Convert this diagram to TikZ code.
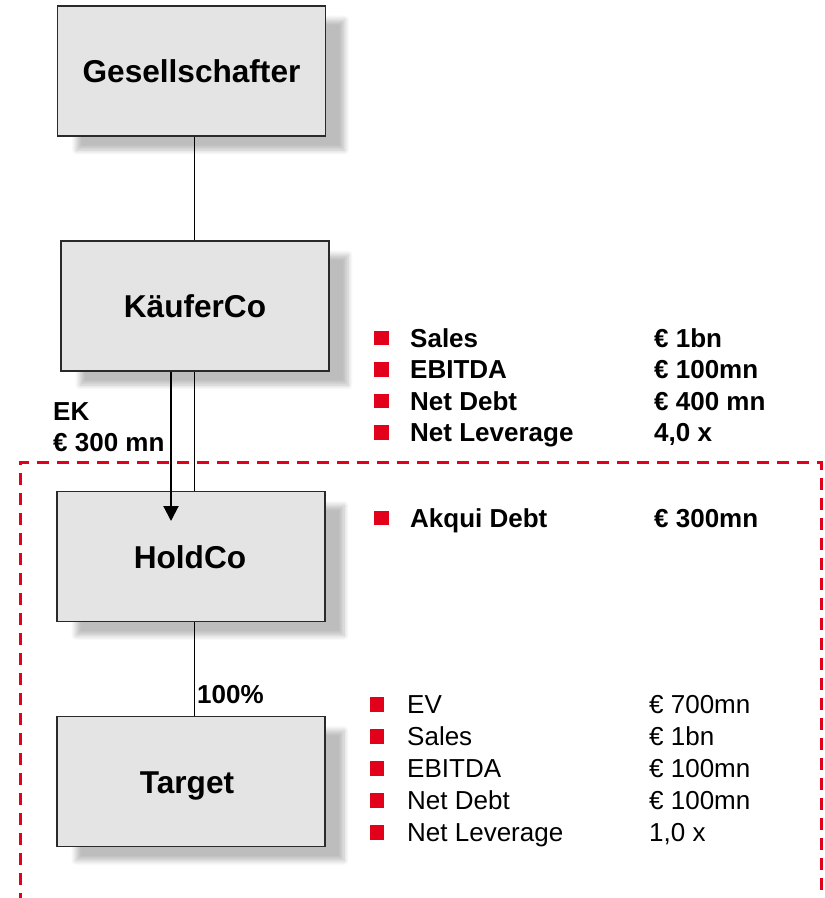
\documentclass[tikz,border=0pt]{standalone}
\usepackage{fontspec}
\setmainfont{Liberation Sans}
\usetikzlibrary{arrows.meta,shadows.blur}

\definecolor{boxfill}{HTML}{E4E4E4}
\definecolor{boxline}{HTML}{2A2A2A}
\definecolor{accent}{HTML}{E2001A}

\tikzset{
  entity/.style={draw=boxline, line width=1.4pt, fill=boxfill,
    minimum width=268pt, minimum height=130pt, inner sep=0pt,
    text height=23pt, text depth=0pt,
    font=\fontsize{31.6}{37}\selectfont\bfseries,
    blur shadow={shadow xshift=19pt, shadow yshift=-14pt,
      shadow blur radius=5pt, shadow blur steps=8, shadow opacity=26}},
  link/.style={draw=black, line width=1pt},
  flow/.style={draw=black, line width=2pt,
    -{Triangle[width=15pt,length=15pt]}},
  bul/.style={fill=accent, minimum size=14.5pt, inner sep=0pt},
  keyb/.style={anchor=base west, inner sep=0pt,
    font=\fontsize{26}{30}\selectfont\bfseries},
  keyr/.style={anchor=base west, inner sep=0pt,
    font=\fontsize{26}{30}\selectfont},
  scopeline/.style={draw=accent, line width=3pt,
    dash pattern=on 12pt off 8pt}
}

\begin{document}
\begin{tikzpicture}[x=1pt,y=-1pt]
\useasboundingbox (0,0) rectangle (825,898);

% entities
\node[entity] (gs) at (191.5,71)  {Gesellschafter};
\node[entity] (kc) at (195,306)   {KäuferCo};
\node[entity] (hc) at (191,556.5) {HoldCo\hspace*{2pt}};
\node[entity] (tg) at (191,781.5) {Target\hspace*{8pt}};

% ownership links
\coordinate (x1) at (194,0);
\draw[link] (gs.south -| x1) -- (kc.north -| x1);
\draw[link] (kc.south -| x1) -- (hc.north -| x1);
\draw[link] (hc.south -| x1) -- (tg.north -| x1);

% equity injection
\coordinate (x2) at (171,0);
\coordinate (tip) at (171,521);
\draw[flow] (kc.south -| x2) -- (tip);

\node[keyb] (ek)  at (53,420) {EK};
\node[keyb] (eka) at (53,451) {€ 300 mn};
\node[keyb] (pct) at (197,703) {100\%};

% acquisition perimeter
\draw[scopeline] (20,905) -- (20,462) -- (821,462) -- (821,905);

% KäuferCo key figures
\foreach \i/\lab/\val/\yy in {1/Sales/€ 1bn/347, 2/EBITDA/€ 100mn/378.5,
    3/Net Debt/€ 400 mn/410, 4/Net Leverage/4{,}0 x/441.5}{
  \node[bul] (kb\i) at (381.5,\yy-9) {};
  \node[keyb] (kl\i) at (410,\yy) {\lab};
  \node[keyb] (kv\i) at (654,\yy) {\val};
}

% HoldCo financing
\node[bul] (hb1) at (381.5,518) {};
\node[keyb] (hl1) at (410,527) {Akqui Debt};
\node[keyb] (hv1) at (654,527) {€ 300mn};

% Target key figures
\foreach \i/\lab/\val/\yy in {1/EV/€ 700mn/713, 2/Sales/€ 1bn/745,
    3/EBITDA/€ 100mn/777, 4/Net Debt/€ 100mn/809, 5/Net Leverage/1{,}0 x/841}{
  \node[bul] (tb\i) at (377,\yy-8.5) {};
  \node[keyr] (tl\i) at (407,\yy) {\lab};
  \node[keyr] (tv\i) at (649,\yy) {\val};
}
\end{tikzpicture}
\end{document}
